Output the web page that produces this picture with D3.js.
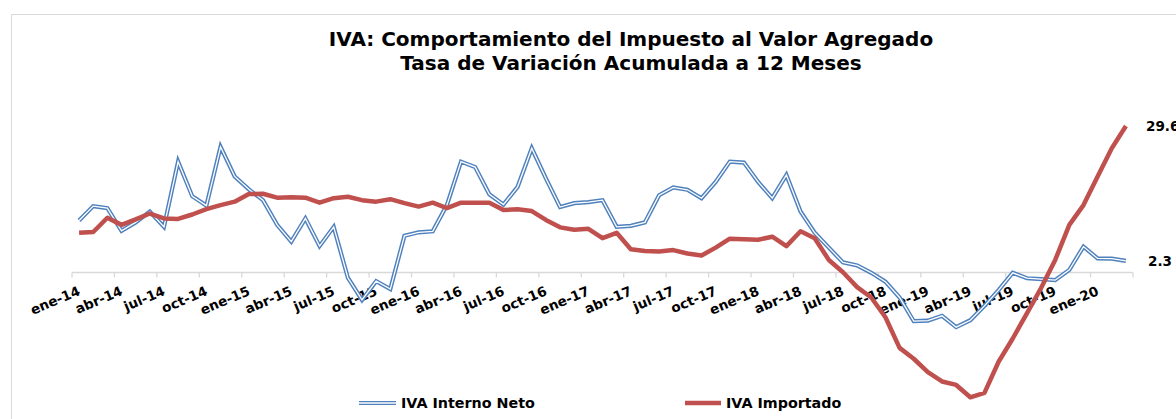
<!DOCTYPE html>
<html>
<head>
<meta charset="utf-8">
<script src="https://cdn.jsdelivr.net/npm/d3@7"></script>
<style>
  html, body { margin: 0; padding: 0; background: #fff; }
  svg { display: block; }
  text { font-family: "DejaVu Sans", Verdana, sans-serif; font-weight: bold; fill: #000; }
</style>
</head>
<body>
<svg id="chart" width="1176" height="419"></svg>
<script>
// ---- Data ----
const monthNames = ["ene","feb","mar","abr","may","jun","jul","ago","sep","oct","nov","dic"];
const years = ["14","15","16","17","18","19","20"];
const categories = [];
years.forEach(y => monthNames.forEach(m => categories.push(m + "-" + y)));
categories.length = 75; // ene-14 .. mar-20

const tickLabels = ["ene-14","abr-14","jul-14","oct-14","ene-15","abr-15","jul-15","oct-15",
  "ene-16","abr-16","jul-16","oct-16","ene-17","abr-17","jul-17","oct-17",
  "ene-18","abr-18","jul-18","oct-18","ene-19","abr-19","jul-19","oct-19","ene-20"];

const ivaInterno = [10.5,13.4,13.0,8.4,10.1,12.3,9.2,22.4,15.4,13.5,25.4,19.4,
  16.8,14.6,9.6,6.2,10.9,5.3,9.2,-1.1,-5.6,-1.8,-3.4,7.4,
  8.1,8.3,13.6,22.4,21.3,15.8,13.7,17.3,25.1,19.0,13.2,14.0,
  14.2,14.6,9.2,9.4,10.1,15.6,17.2,16.7,15.0,18.3,22.4,22.2,
  18.3,15.0,19.7,12.3,8.0,5.0,2.0,1.4,-0.1,-1.9,-5.1,-9.9,
  -9.8,-8.8,-11.1,-9.7,-6.8,-3.6,-0.1,-1.2,-1.4,-1.6,0.5,5.2,
  2.8,2.75,2.3];

const ivaImportado = [8.0,8.15,11.05,9.6,10.7,11.9,10.9,10.8,11.7,12.8,13.6,14.3,
  15.85,15.9,15.1,15.2,15.1,14.1,15.0,15.3,14.6,14.3,14.8,14.0,
  13.3,14.1,13.0,14.1,14.1,14.1,12.6,12.75,12.4,10.6,9.1,8.6,
  8.8,6.9,8.0,4.65,4.3,4.2,4.5,3.8,3.4,5.0,6.8,6.7,
  6.6,7.2,5.3,8.3,6.9,2.5,0.0,-3.0,-5.1,-9.1,-15.3,-17.5,
  -20.2,-22.1,-22.8,-25.3,-24.4,-18.1,-13.4,-8.3,-3.2,2.5,9.6,13.6,
  19.4,25.1,29.6];

const titleLines = ["IVA: Comportamiento del Impuesto al Valor Agregado",
                    "Tasa de Variación Acumulada a 12 Meses"];
const seriesNames = ["IVA Interno Neto","IVA Importado"];

// ---- Chart ----
const svg = d3.select("#chart");
const blue = "#4F81BD", red = "#C0504D", grid = "#D9D9D9";

// chart border
svg.append("path").attr("d", "M11.5,419 V14.5 H1176")
  .attr("fill","none").attr("stroke", grid).attr("stroke-width",1);

const x = d3.scaleBand().domain(categories).range([72, 1133]).padding(0);
const y = d3.scaleLinear().domain([-30, 35]).range([420.5, 99.4]);
const cx = c => x(c) + x.bandwidth() / 2;

// title
svg.append("g").selectAll("text").data(titleLines).join("text")
  .attr("x", 631).attr("y", (d,i) => 46 + i*24)
  .attr("text-anchor","middle").attr("font-size", 20).text(d => d);

// zero axis
const y0 = Math.round(y(0)) + 0.5;
svg.append("line").attr("x1", 72).attr("x2", 1133).attr("y1", y0).attr("y2", y0)
  .attr("stroke", grid).attr("stroke-width", 1.3);
const tickIdx = d3.range(0, 76, 3);
svg.append("g").selectAll("line").data(tickIdx).join("line")
  .attr("x1", i => i < 75 ? x(categories[i]) : x.range()[1])
  .attr("x2", i => i < 75 ? x(categories[i]) : x.range()[1])
  .attr("y1", y0).attr("y2", y0 + 5)
  .attr("stroke", grid).attr("stroke-width", 1.3);

// tick labels
svg.append("g").selectAll("text").data(tickLabels).join("text")
  .attr("transform", d => `translate(${cx(d) + 2},${y0 + 22}) rotate(-23)`)
  .attr("text-anchor","end").attr("font-size", 13.5).text(d => d);

// lines
const line = d3.line().x((d,i) => cx(categories[i])).y(d => y(d));
svg.append("path").datum(ivaInterno).attr("d", line)
  .attr("fill","none").attr("stroke", blue).attr("stroke-width", 4.2).attr("stroke-linejoin","miter");
svg.append("path").datum(ivaInterno).attr("d", line)
  .attr("fill","none").attr("stroke", "#fff").attr("stroke-width", 1.3).attr("stroke-linejoin","miter");
svg.append("path").datum(ivaImportado).attr("d", line)
  .attr("fill","none").attr("stroke", red).attr("stroke-width", 4.5).attr("stroke-linejoin","round");

// end labels
const last = categories.length - 1;
svg.append("text").attr("x", 1146).attr("y", y(ivaImportado[last]) + 5)
  .attr("font-size", 13.5).text(ivaImportado[last].toFixed(1));
svg.append("text").attr("x", 1148).attr("y", y(ivaInterno[last]) + 5)
  .attr("font-size", 13.5).text(ivaInterno[last].toFixed(1));

// legend
const lg = svg.append("g");
lg.append("line").attr("x1",359).attr("x2",396).attr("y1",403).attr("y2",403)
  .attr("stroke", blue).attr("stroke-width", 4.2);
lg.append("line").attr("x1",359).attr("x2",396).attr("y1",403).attr("y2",403)
  .attr("stroke", "#fff").attr("stroke-width", 1.3);
lg.append("text").attr("x",401).attr("y",408).attr("font-size",14.3).text(seriesNames[0]);
lg.append("line").attr("x1",685).attr("x2",721).attr("y1",403).attr("y2",403)
  .attr("stroke", red).attr("stroke-width", 4.5);
lg.append("text").attr("x",726).attr("y",408).attr("font-size",14.3).text(seriesNames[1]);
</script>
</body>
</html>
